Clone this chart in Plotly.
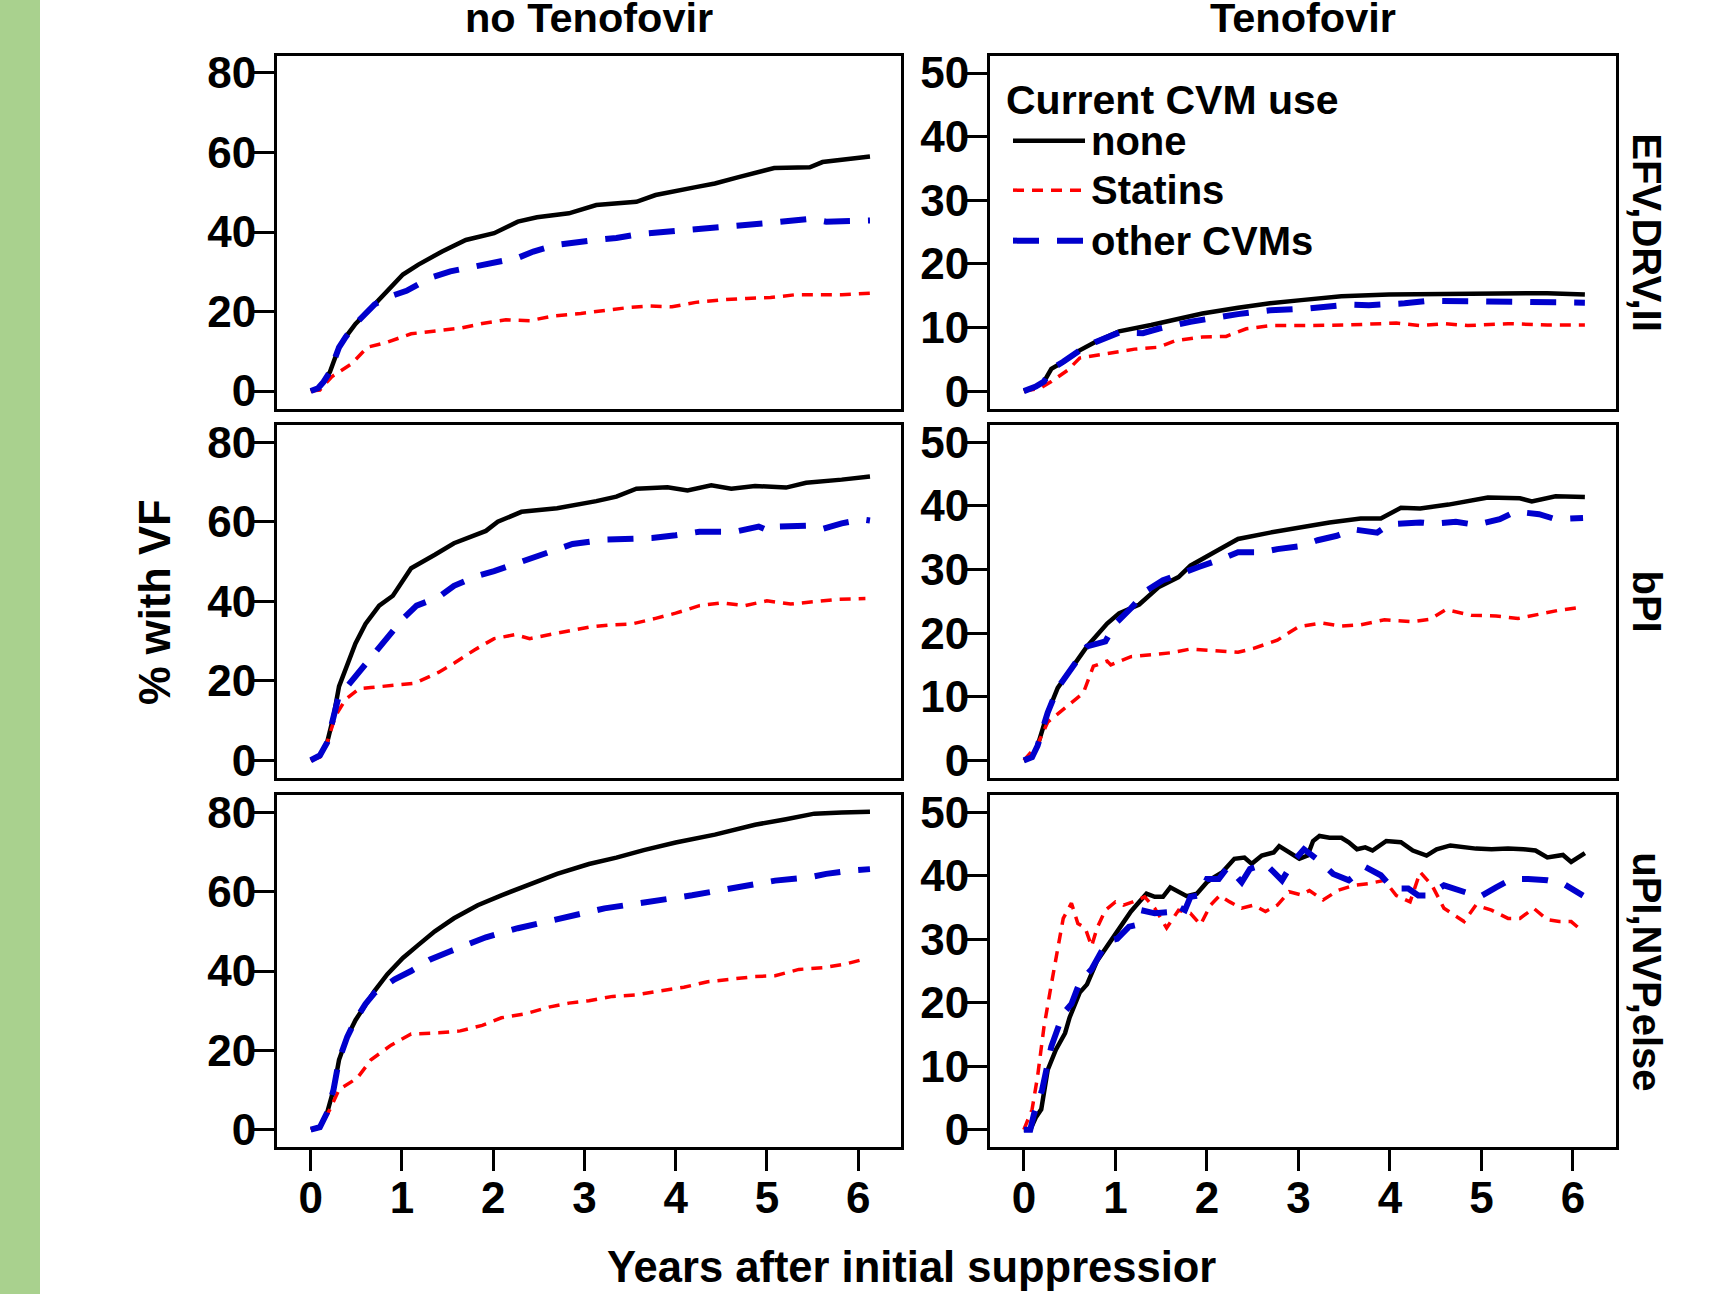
import plotly.graph_objects as go

# ---------------- data ----------------
row_labels = ["EFV,DRV,II", "bPI", "uPI,NVP,else"]
col_labels = ["no Tenofovir", "Tenofovir"]
series_names = ["none", "Statins", "other CVMs"]
x_ticks = [0, 1, 2, 3, 4, 5, 6]
y_ticks_left = [0, 20, 40, 60, 80]
y_ticks_right = [0, 10, 20, 30, 40, 50]

# EFV,DRV,II  - no Tenofovir
efv_no_none_x = [0, 0.08, 0.14, 0.21, 0.25, 0.31, 0.38, 0.49, 0.70, 0.84, 1.01, 1.18, 1.44, 1.70, 2.01, 2.27, 2.48, 2.83, 3.13, 3.57, 3.78, 4.22, 4.43, 4.69, 5.08, 5.47, 5.61, 6.13]
efv_no_none_y = [0, 0.7, 2.3, 4.8, 7.3, 11.0, 13.5, 16.9, 21.8, 25.2, 29.3, 31.8, 35.1, 38.0, 39.7, 42.6, 43.7, 44.7, 46.8, 47.6, 49.3, 51.3, 52.2, 53.8, 56.1, 56.3, 57.6, 59.0]
efv_no_stat_x = [0, 0.10, 0.23, 0.45, 0.62, 0.84, 1.10, 1.40, 1.66, 1.88, 2.14, 2.40, 2.66, 2.96, 3.22, 3.48, 3.70, 3.96, 4.22, 4.48, 4.78, 5.04, 5.30, 5.56, 5.82, 6.13]
efv_no_stat_y = [0, 0.25, 3.6, 6.9, 11.0, 12.3, 14.4, 15.2, 15.9, 17.0, 17.9, 17.7, 18.9, 19.5, 20.3, 21.0, 21.4, 21.2, 22.3, 22.9, 23.3, 23.5, 24.2, 24.3, 24.2, 24.6]
efv_no_oth_x = [0, 0.08, 0.14, 0.21, 0.25, 0.31, 0.38, 0.49, 0.70, 0.88, 1.05, 1.31, 1.53, 1.88, 2.27, 2.44, 2.70, 3.13, 3.35, 3.61, 4.0, 4.22, 4.57, 5.08, 5.47, 5.65, 6.13]
efv_no_oth_y = [0, 0.7, 2.3, 4.8, 7.3, 11.0, 13.5, 16.9, 21.8, 23.9, 25.2, 28.5, 30.1, 31.8, 33.5, 35.1, 36.8, 38.0, 38.5, 39.5, 40.4, 40.7, 41.4, 42.4, 43.3, 42.6, 42.9]

# EFV,DRV,II  - Tenofovir
efv_tdf_none_x = [0, 0.13, 0.22, 0.30, 0.43, 0.61, 0.78, 1.04, 1.39, 1.65, 1.95, 2.34, 2.69, 3.03, 3.47, 3.99, 4.85, 5.29, 5.72, 6.13]
efv_tdf_none_y = [0, 0.7, 1.5, 3.5, 4.6, 6.4, 7.7, 9.4, 10.4, 11.3, 12.2, 13.1, 13.8, 14.3, 14.9, 15.2, 15.3, 15.2, 15.4, 15.2]
efv_tdf_stat_x = [0, 0.17, 0.30, 0.48, 0.61, 0.78, 0.95, 1.21, 1.47, 1.65, 1.95, 2.21, 2.43, 2.69, 3.12, 3.55, 4.07, 4.33, 4.59, 4.85, 5.29, 5.72, 6.13]
efv_tdf_stat_y = [0, 0.4, 1.5, 3.3, 5.2, 5.6, 6.0, 6.6, 6.9, 7.9, 8.5, 8.6, 9.8, 10.3, 10.3, 10.4, 10.7, 10.3, 10.6, 10.3, 10.6, 10.4, 10.4]
efv_tdf_oth_x = [0, 0.13, 0.22, 0.30, 0.43, 0.61, 0.78, 1.04, 1.30, 1.47, 1.82, 2.17, 2.34, 2.69, 3.12, 3.55, 3.77, 4.16, 4.42, 5.07, 5.63, 6.13]
efv_tdf_oth_y = [0, 0.7, 1.5, 3.5, 4.6, 6.4, 7.7, 9.2, 9.1, 9.8, 10.9, 11.8, 12.1, 12.7, 13.0, 13.6, 13.5, 13.8, 14.2, 14.1, 13.9, 13.9]

# bPI - no Tenofovir
bpi_no_none_x = [0, 0.10, 0.18, 0.25, 0.31, 0.40, 0.49, 0.60, 0.75, 0.90, 1.10, 1.36, 1.57, 1.92, 2.05, 2.31, 2.70, 3.13, 3.35, 3.57, 3.91, 4.13, 4.39, 4.61, 4.87, 5.21, 5.43, 5.82, 6.13]
bpi_no_none_y = [0, 1.2, 4.5, 11.1, 18.6, 24.4, 29.4, 34.3, 38.9, 41.4, 48.3, 51.7, 54.6, 57.7, 60.0, 62.5, 63.4, 65.2, 66.3, 68.3, 68.7, 67.9, 69.2, 68.3, 69.0, 68.6, 69.8, 70.6, 71.4]
bpi_no_stat_x = [0, 0.10, 0.18, 0.27, 0.38, 0.53, 0.66, 0.92, 1.14, 1.40, 1.57, 1.79, 2.01, 2.24, 2.40, 2.70, 3.05, 3.26, 3.52, 3.78, 4.00, 4.26, 4.50, 4.76, 5.00, 5.26, 5.52, 5.78, 6.08]
bpi_no_stat_y = [0, 0.8, 4.5, 11.1, 15.3, 18.0, 18.3, 18.8, 19.4, 22.1, 24.4, 27.7, 30.6, 31.6, 30.6, 32.0, 33.5, 34.0, 34.3, 35.7, 37.0, 38.9, 39.6, 38.9, 40.1, 39.3, 40.0, 40.5, 40.7]
bpi_no_oth_x = [0, 0.10, 0.18, 0.25, 0.30, 0.40, 0.58, 0.75, 1.01, 1.16, 1.40, 1.57, 1.83, 2.01, 2.27, 2.40, 2.70, 2.87, 3.22, 3.57, 3.74, 4.00, 4.26, 4.65, 4.91, 5.04, 5.13, 5.43, 5.61, 5.82, 6.04, 6.13]
bpi_no_oth_y = [0, 1.2, 4.5, 11.1, 15.5, 18.6, 23.5, 28.5, 35.6, 38.9, 41.0, 43.9, 46.4, 47.6, 49.7, 50.9, 53.0, 54.4, 55.5, 55.9, 55.9, 56.6, 57.5, 57.5, 58.8, 57.5, 58.8, 59.0, 58.2, 59.6, 60.6, 60.3]

# bPI - Tenofovir
bpi_tdf_none_x = [0, 0.09, 0.15, 0.26, 0.37, 0.56, 0.69, 0.91, 1.04, 1.26, 1.47, 1.69, 1.82, 2.08, 2.34, 2.69, 3.03, 3.34, 3.68, 3.90, 4.12, 4.33, 4.64, 4.85, 5.07, 5.42, 5.55, 5.81, 6.13]
bpi_tdf_none_y = [0, 0.5, 2.3, 7.5, 11.4, 15.3, 17.9, 21.5, 23.1, 24.5, 27.2, 28.8, 30.6, 32.7, 34.8, 35.8, 36.7, 37.4, 38.0, 38.0, 39.7, 39.6, 40.2, 40.7, 41.3, 41.2, 40.7, 41.5, 41.4]
bpi_tdf_stat_x = [0, 0.15, 0.26, 0.48, 0.65, 0.76, 0.91, 0.95, 1.17, 1.39, 1.60, 1.82, 2.08, 2.34, 2.51, 2.77, 3.00, 3.25, 3.47, 3.68, 3.94, 4.25, 4.44, 4.61, 4.89, 5.16, 5.40, 5.63, 5.85, 6.11]
bpi_tdf_stat_y = [0, 2.5, 6.0, 8.6, 10.6, 14.8, 15.6, 15.0, 16.3, 16.6, 16.9, 17.5, 17.3, 17.0, 17.6, 18.9, 21.0, 21.6, 21.1, 21.3, 22.1, 21.8, 22.2, 23.7, 22.8, 22.7, 22.3, 23.0, 23.6, 24.1]
bpi_tdf_oth_x = [0, 0.09, 0.15, 0.26, 0.37, 0.56, 0.69, 0.89, 1.00, 1.17, 1.34, 1.52, 1.78, 1.91, 2.17, 2.34, 2.60, 2.77, 3.03, 3.21, 3.42, 3.60, 3.86, 3.99, 4.33, 4.46, 4.72, 4.94, 5.20, 5.37, 5.63, 5.81, 6.11]
bpi_tdf_oth_y = [0, 0.5, 2.3, 7.5, 11.4, 15.3, 17.9, 18.7, 21.5, 23.9, 26.7, 28.3, 29.8, 30.4, 31.7, 32.7, 32.7, 33.2, 33.7, 34.6, 35.3, 36.3, 35.8, 37.1, 37.4, 37.2, 37.5, 37.0, 37.9, 39.1, 38.7, 37.9, 38.1]

# uPI,NVP,else - no Tenofovir
upi_no_none_x = [0, 0.10, 0.18, 0.25, 0.31, 0.40, 0.49, 0.60, 0.70, 0.84, 1.01, 1.18, 1.36, 1.57, 1.83, 2.09, 2.35, 2.70, 3.05, 3.35, 3.65, 4.00, 4.43, 4.87, 5.21, 5.52, 5.82, 6.13]
upi_no_none_y = [0, 0.6, 4.3, 10.1, 17.6, 23.4, 27.6, 31.7, 35.0, 39.2, 43.3, 46.6, 50.0, 53.3, 56.6, 59.1, 61.4, 64.5, 67.0, 68.6, 70.5, 72.4, 74.4, 76.9, 78.3, 79.7, 80.0, 80.2]
upi_no_stat_x = [0, 0.10, 0.21, 0.31, 0.51, 0.66, 0.88, 1.10, 1.40, 1.64, 1.88, 2.09, 2.35, 2.61, 2.83, 3.05, 3.31, 3.57, 3.83, 4.09, 4.35, 4.61, 4.87, 5.09, 5.35, 5.61, 5.87, 6.10]
upi_no_stat_y = [0, 0.6, 5.1, 10.1, 13.0, 17.6, 21.3, 24.1, 24.4, 24.9, 26.3, 28.2, 29.2, 30.9, 31.9, 32.5, 33.6, 34.0, 35.0, 35.9, 37.3, 37.9, 38.6, 38.8, 40.4, 40.8, 41.8, 43.2]
upi_no_oth_x = [0, 0.10, 0.18, 0.25, 0.31, 0.40, 0.49, 0.60, 0.70, 0.92, 1.10, 1.31, 1.53, 1.92, 2.27, 2.40, 2.70, 2.87, 3.22, 3.57, 3.83, 4.18, 4.57, 4.74, 5.09, 5.48, 5.65, 5.91, 6.13]
upi_no_oth_y = [0, 0.6, 4.3, 10.1, 17.6, 23.4, 27.6, 31.7, 34.5, 37.9, 40.0, 42.9, 45.0, 48.5, 50.8, 51.5, 52.9, 54.1, 55.8, 57.0, 57.8, 59.1, 60.7, 61.4, 62.8, 63.7, 64.5, 65.3, 65.7]

# uPI,NVP,else - Tenofovir
upi_tdf_none_x = [0, 0.07, 0.13, 0.19, 0.26, 0.35, 0.45, 0.50, 0.61, 0.69, 0.80, 0.91, 1.00, 1.08, 1.17, 1.26, 1.34, 1.43, 1.52, 1.60, 1.69, 1.78, 1.89, 2.00, 2.08, 2.17, 2.30, 2.41, 2.49, 2.60, 2.73, 2.79, 2.90, 3.01, 3.10, 3.16, 3.23, 3.34, 3.47, 3.55, 3.64, 3.73, 3.81, 3.88, 3.96, 4.12, 4.25, 4.40, 4.51, 4.66, 4.81, 4.94, 5.11, 5.29, 5.46, 5.59, 5.72, 5.89, 5.98, 6.13]
upi_tdf_none_y = [0, 0, 1.9, 3.2, 9.4, 12.6, 15.2, 17.7, 21.6, 22.9, 26.6, 28.9, 30.7, 32.5, 34.4, 35.9, 37.2, 36.7, 36.7, 38.2, 37.5, 36.8, 37.2, 39.0, 39.8, 40.6, 42.7, 42.9, 41.9, 43.2, 43.7, 44.7, 43.7, 42.7, 43.2, 45.5, 46.3, 46.0, 46.0, 45.3, 44.2, 44.5, 44.0, 44.7, 45.5, 45.3, 44.0, 43.2, 44.2, 44.8, 44.5, 44.3, 44.2, 44.3, 44.2, 44.0, 42.9, 43.3, 42.2, 43.6]
upi_tdf_stat_x = [0, 0.09, 0.15, 0.22, 0.30, 0.39, 0.43, 0.52, 0.59, 0.67, 0.74, 0.80, 0.89, 1.00, 1.09, 1.19, 1.32, 1.43, 1.56, 1.69, 1.82, 1.93, 2.04, 2.14, 2.25, 2.38, 2.51, 2.64, 2.77, 2.90, 3.03, 3.12, 3.27, 3.43, 3.60, 3.77, 3.94, 4.07, 4.22, 4.33, 4.46, 4.59, 4.81, 4.94, 5.11, 5.29, 5.42, 5.57, 5.72, 5.85, 5.98, 6.11]
upi_tdf_stat_y = [0, 3.2, 8.4, 16.2, 22.9, 29.7, 33.3, 35.7, 32.5, 31.8, 28.9, 31.8, 34.6, 35.9, 35.4, 35.9, 36.7, 34.9, 31.8, 34.6, 34.1, 32.3, 35.4, 36.9, 35.9, 34.9, 35.4, 34.4, 35.4, 37.5, 37.0, 37.7, 36.2, 37.7, 38.5, 38.8, 39.3, 36.9, 35.9, 40.6, 38.5, 34.9, 32.8, 35.4, 34.6, 33.3, 33.3, 34.9, 33.1, 32.8, 32.8, 31.2]
upi_tdf_oth_x = [0, 0.07, 0.11, 0.20, 0.30, 0.37, 0.43, 0.52, 0.61, 0.74, 0.82, 0.91, 1.02, 1.15, 1.24, 1.28, 1.43, 1.60, 1.65, 1.76, 1.82, 1.91, 2.00, 2.13, 2.23, 2.38, 2.47, 2.64, 2.82, 2.95, 3.06, 3.25, 3.38, 3.55, 3.73, 3.90, 4.03, 4.20, 4.31, 4.42, 4.59, 4.79, 4.98, 5.16, 5.33, 5.51, 5.72, 5.89, 6.11]
upi_tdf_oth_y = [0, 0, 2.4, 6.3, 13.1, 15.7, 18.3, 19.8, 23.2, 25.3, 27.6, 29.7, 30.1, 32.0, 32.3, 34.6, 34.1, 34.3, 35.4, 34.6, 36.7, 36.9, 39.5, 39.5, 41.4, 39.0, 41.1, 41.9, 39.3, 42.4, 44.2, 42.1, 40.3, 39.3, 41.4, 40.1, 38.0, 38.0, 36.9, 36.9, 38.5, 37.7, 36.7, 38.2, 39.5, 39.5, 39.3, 38.8, 36.9]

# ---------------- styling / layout ----------------
W, H = 1724, 1294
FONT = "Liberation Sans, Arial, Helvetica, sans-serif"
GREEN = "#A9D18E"
styles = {
    "none": dict(color="#000000", width=4.5, dash="solid"),
    "Statins": dict(color="#FF0000", width=3.5, dash="11px,8px"),
    "other CVMs": dict(color="#0000CD", width=6, dash="26px,18px"),
}

def px_x(p):
    return p / W

def px_y(p):
    return 1 - p / H

col_px = [(277, 901), (990, 1616)]
row_px = [(49, 406), (422, 779), (796, 1152)]
y_ranges = [[-4.5, 84.4], [-2.8, 52.75]]
x_range = [-0.37, 6.47]

panels = [
    [  # row EFV,DRV,II
        [(efv_no_none_x, efv_no_none_y), (efv_no_stat_x, efv_no_stat_y), (efv_no_oth_x, efv_no_oth_y)],
        [(efv_tdf_none_x, efv_tdf_none_y), (efv_tdf_stat_x, efv_tdf_stat_y), (efv_tdf_oth_x, efv_tdf_oth_y)],
    ],
    [  # row bPI
        [(bpi_no_none_x, bpi_no_none_y), (bpi_no_stat_x, bpi_no_stat_y), (bpi_no_oth_x, bpi_no_oth_y)],
        [(bpi_tdf_none_x, bpi_tdf_none_y), (bpi_tdf_stat_x, bpi_tdf_stat_y), (bpi_tdf_oth_x, bpi_tdf_oth_y)],
    ],
    [  # row uPI,NVP,else
        [(upi_no_none_x, upi_no_none_y), (upi_no_stat_x, upi_no_stat_y), (upi_no_oth_x, upi_no_oth_y)],
        [(upi_tdf_none_x, upi_tdf_none_y), (upi_tdf_stat_x, upi_tdf_stat_y), (upi_tdf_oth_x, upi_tdf_oth_y)],
    ],
]

fig = go.Figure()
layout = dict(
    width=W, height=H,
    margin=dict(l=0, r=0, t=0, b=0, pad=0),
    paper_bgcolor="white", plot_bgcolor="white",
    showlegend=False,
    font=dict(family=FONT, color="black", size=40),
)

tickfont = dict(family=FONT, size=44, color="black", weight="bold")
k = 0
for r in range(3):
    for c in range(2):
        k += 1
        xa = "x" if k == 1 else f"x{k}"
        ya = "y" if k == 1 else f"y{k}"
        for s, name in enumerate(series_names):
            xs, ys = panels[r][c][s]
            st = styles[name]
            fig.add_trace(go.Scatter(
                x=xs, y=ys, mode="lines", name=name, xaxis=xa, yaxis=ya,
                line=dict(color=st["color"], width=st["width"], dash=st["dash"]),
                hoverinfo="skip",
            ))
        bottom = (r == 2)
        layout["xaxis" if k == 1 else f"xaxis{k}"] = dict(
            domain=[px_x(col_px[c][0]), px_x(col_px[c][1])],
            anchor=ya, range=x_range, showgrid=False, zeroline=False,
            showline=True, mirror=True, linecolor="black", linewidth=3,
            ticks="outside" if bottom else "", ticklen=21, tickwidth=2.5, tickcolor="black",
            tickvals=x_ticks, showticklabels=bottom, tickfont=tickfont,
            ticklabelstandoff=-11,
        )
        layout["yaxis" if k == 1 else f"yaxis{k}"] = dict(
            domain=[px_y(row_px[r][1]), px_y(row_px[r][0])],
            anchor=xa, range=y_ranges[c], showgrid=False, zeroline=False,
            showline=True, mirror=True, linecolor="black", linewidth=3,
            ticks="outside", ticklen=20, tickwidth=2.5, tickcolor="black",
            tickvals=y_ticks_left if c == 0 else y_ticks_right, tickfont=tickfont,
            ticklabelstandoff=-11,
        )

bold = lambda size: dict(family=FONT, size=size, color="black", weight="bold")
ann = []
# column strip titles
for c, lab in enumerate(col_labels):
    ann.append(dict(text=lab, x=px_x((col_px[c][0] + col_px[c][1]) / 2), y=px_y(11),
                    xref="paper", yref="paper", xanchor="center", yanchor="middle",
                    showarrow=False, font=bold(41.5)))
# row strip titles (right side, rotated)
for r, lab in enumerate(row_labels):
    ann.append(dict(text=lab, x=px_x(1647), y=px_y((row_px[r][0] + row_px[r][1]) / 2),
                    xref="paper", yref="paper", xanchor="center", yanchor="middle",
                    textangle=90, showarrow=False, font=bold(40)))
# axis titles
ann.append(dict(text="% with VF", x=px_x(155), y=px_y(602), xref="paper", yref="paper",
                xanchor="center", yanchor="middle", textangle=-90, showarrow=False, font=bold(43.5)))
ann.append(dict(text="Years after initial suppressior", x=px_x(911), y=px_y(1273),
                xref="paper", yref="paper", xanchor="center", yanchor="middle",
                showarrow=False, font=bold(43.5)))
# legend (drawn inside the top-right panel)
ann.append(dict(text="Current CVM use", x=px_x(1004), y=px_y(94), xref="paper", yref="paper",
                xanchor="left", yanchor="middle", showarrow=False, font=bold(41)))
shapes = [dict(type="rect", xref="paper", yref="paper", x0=-0.01, x1=px_x(40), y0=-0.02, y1=1.02,
               fillcolor=GREEN, line=dict(width=0), layer="below")]
leg_y = [135, 185, 236]
for name, ly in zip(series_names, leg_y):
    st = styles[name]
    shapes.append(dict(type="line", xref="paper", yref="paper",
                       x0=px_x(1013), x1=px_x(1085), y0=px_y(ly), y1=px_y(ly),
                       line=dict(color=st["color"], width=st["width"], dash=st["dash"])))
    ann.append(dict(text=name, x=px_x(1089), y=px_y(ly), xref="paper", yref="paper",
                    xanchor="left", yanchor="middle", showarrow=False, font=bold(40)))

layout["annotations"] = ann
layout["shapes"] = shapes
fig.update_layout(**layout)
fig.write_html("out.html")
